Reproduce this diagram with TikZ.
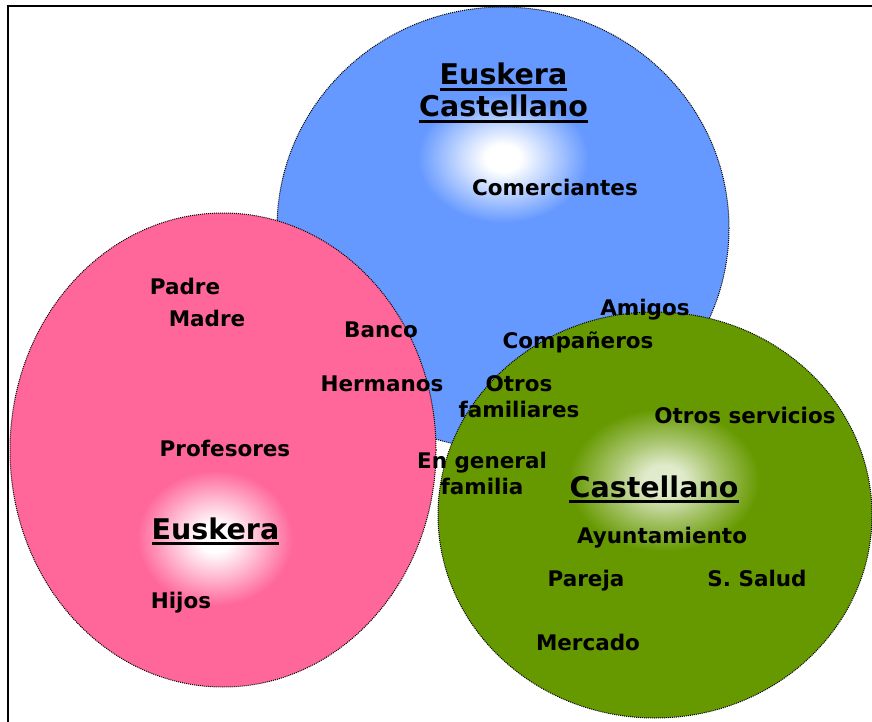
\documentclass[tikz,border=0pt]{standalone}
\usepackage{fontspec}
\setmainfont{DejaVu Sans}
\definecolor{cblue}{HTML}{6699FF}
\definecolor{cpink}{HTML}{FF6699}
\definecolor{cgreen}{HTML}{669900}
\colorlet{cblueA}{cblue!40!white}
\colorlet{cpinkA}{cpink!40!white}
\colorlet{cgreenA}{cgreen!55!white}
\colorlet{cgreenC}{cgreen!20!white}
\pgfdeclareradialshading{glowblue}{\pgfpoint{0bp}{0bp}}{color(0bp)=(white); color(3.5bp)=(white); color(9bp)=(cblueA); color(17bp)=(cblue); color(50bp)=(cblue)}
\pgfdeclareradialshading{glowpink}{\pgfpoint{0bp}{0bp}}{color(0bp)=(white); color(3.5bp)=(white); color(9bp)=(cpinkA); color(17bp)=(cpink); color(50bp)=(cpink)}
\pgfdeclareradialshading{glowgreen}{\pgfpoint{0bp}{0bp}}{color(0bp)=(cgreenC); color(3.5bp)=(cgreenC); color(9bp)=(cgreenA); color(17bp)=(cgreen); color(50bp)=(cgreen)}
\begin{document}
\begin{tikzpicture}[x=1pt,y=-1pt,
  bubble/.style={draw=black, line width=1pt, densely dotted},
  lbl/.style={font=\fontsize{21.5}{26}\bfseries\selectfont, inner sep=0pt, align=center},
  one/.style={lbl, text height=15.5pt, text depth=0pt},
  ttl/.style={font=\fontsize{28.5}{33}\bfseries\selectfont, inner sep=0pt, anchor=base},
  uline/.style={line width=2.6pt}]
\useasboundingbox (0,0) rectangle (872,722);
% blue bubble
\fill[cblue] (503,228) ellipse [x radius=226, y radius=221];
\begin{scope}
  \clip (503,228) ellipse [x radius=226, y radius=221];
  \shade[shading=glowblue] (503,158) ellipse [x radius=125, y radius=95];
\end{scope}
\draw[bubble] (503,228) ellipse [x radius=226, y radius=221];
% pink bubble
\fill[cpink] (223,450) ellipse [x radius=213, y radius=237];
\begin{scope}
  \clip (223,450) ellipse [x radius=213, y radius=237];
  \shade[shading=glowpink] (215,538) ellipse [x radius=115, y radius=100];
\end{scope}
\draw[bubble] (223,450) ellipse [x radius=213, y radius=237];
% green bubble
\fill[cgreen] (655,515) ellipse [x radius=217, y radius=203];
\begin{scope}
  \clip (655,515) ellipse [x radius=217, y radius=203];
  \shade[shading=glowgreen] (664,480) ellipse [x radius=140, y radius=105];
\end{scope}
\draw[bubble] (655,515) ellipse [x radius=217, y radius=203];
% frame
\coordinate (f1) at (8,722);
\coordinate (f2) at (8,6);
\coordinate (f3) at (872,6);
\draw[line width=2.6pt] (f1) -- (f2) -- (f3);
% titles
\node[ttl] (bt1) at (503.5,85) {Euskera};
\node[ttl] (bt2) at (503.5,117) {Castellano};
\node[ttl] (gt) at (654,497) {Castellano};
\node[ttl] (pt) at (215.5,539) {Euskera};
\foreach \t in {bt1,bt2,gt,pt}
  \draw[uline] ([yshift=-4.5pt]\t.base west) -- ([yshift=-4.5pt]\t.base east);
% labels
\node[one] (com) at (555,188) {Comerciantes};
\node[one] (pad) at (185,287) {Padre};
\node[one] (mad) at (207,319) {Madre};
\node[one] (ban) at (381,330) {Banco};
\node[one] (ami) at (645,308) {Amigos};
\node[one] (cmp) at (578,341) {Compañeros};
\node[one] (her) at (382,384) {Hermanos};
\node[lbl] (otr) at (519,397) {Otros\\familiares};
\node[one] (ose) at (745,416) {Otros servicios};
\node[one] (pro) at (225,449) {Profesores};
\node[lbl] (egf) at (482,473) {En general\\familia};
\node[one] (ayu) at (662,536) {Ayuntamiento};
\node[one] (par) at (586,579) {Pareja};
\node[one] (sal) at (757,579) {S. Salud};
\node[one] (hij) at (181,601) {Hijos};
\node[one] (mer) at (588,643) {Mercado};
\end{tikzpicture}
\end{document}
